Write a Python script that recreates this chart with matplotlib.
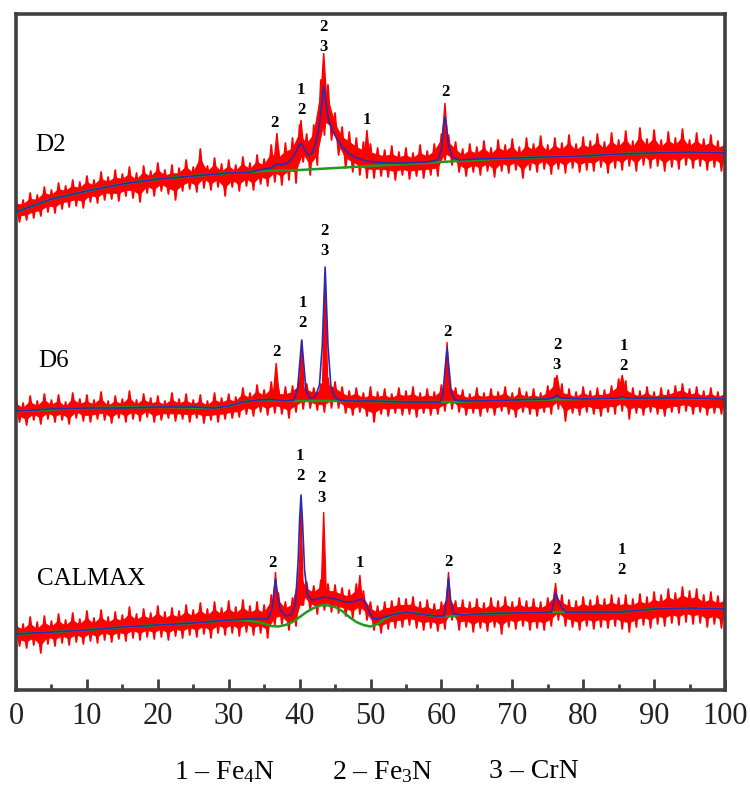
import numpy as np
import matplotlib
matplotlib.use("Agg")
import matplotlib.pyplot as plt
from matplotlib.ticker import MultipleLocator

plt.rcParams['font.family'] = ['Liberation Serif', 'DejaVu Serif']
plt.rcParams['mathtext.fontset'] = 'custom'
plt.rcParams['mathtext.rm'] = 'Liberation Serif'
plt.rcParams['mathtext.it'] = 'Liberation Serif:italic'
plt.rcParams['mathtext.bf'] = 'Liberation Serif:bold'

# ---------------- data (2-theta in degrees, intensity in arbitrary offset units) ----------------
theta = np.arange(0, 101)  # 1-degree sampling of the red measured trace

# D2 measured trace: upper / lower extent of the noisy signal at each degree
d2_hi = [492, 490, 497, 495, 503, 500, 507, 504, 510, 508,
         514, 510, 518, 513, 520, 516, 523, 517, 524, 519,
         527, 520, 525, 522, 530, 523, 541, 524, 532, 526,
         530, 525, 533, 527, 535, 531, 545, 540, 547, 552,
         565, 556, 565, 610, 605, 577, 563, 558, 552, 548,
         546, 542, 540, 544, 538, 542, 537, 545, 539, 546,
         556, 555, 548, 541, 546, 543, 549, 542, 550, 545,
         551, 543, 552, 546, 554, 545, 552, 547, 555, 546,
         553, 549, 556, 548, 557, 550, 559, 549, 562, 551,
         560, 550, 558, 552, 561, 550, 557, 551, 555, 549, 552]
d2_lo = [468, 470, 472, 474, 478, 477, 481, 483, 484, 482,
         488, 487, 490, 491, 489, 494, 492, 488, 497, 494,
         499, 496, 490, 499, 501, 498, 502, 500, 503, 494,
         503, 499, 504, 500, 506, 504, 508, 505, 510, 507,
         528, 515, 525, 555, 550, 535, 522, 518, 515, 512,
         512, 514, 513, 510, 515, 511, 514, 512, 515, 514,
         530, 525, 518, 514, 518, 515, 519, 513, 519, 517,
         520, 512, 520, 518, 521, 516, 521, 517, 522, 518,
         520, 519, 523, 517, 522, 520, 524, 519, 525, 522,
         524, 519, 523, 521, 525, 522, 524, 520, 523, 519, 522]
# D2 fitted profile (blue) and background (green)
d2_fit_x = [0, 5, 10, 15, 20, 25, 30, 33, 35, 36, 36.8, 37.5, 38.5, 39.3, 39.8, 40.2, 40.6,
            41.2, 41.7, 42.2, 42.7, 43.1, 43.4, 43.7, 44.1, 44.6, 45.2, 46, 47, 48, 49.5, 50.5,
            52, 55, 58, 59.5, 60.0, 60.3, 60.5, 60.7, 61.0, 61.5, 62.5, 65, 70, 75, 80, 85, 90, 95, 100]
d2_fit_y = [478, 491, 499, 506, 511, 514, 517, 518, 521, 522, 526, 525, 528, 535, 543, 547, 542,
            535, 536, 545, 560, 585, 603, 588, 570, 560, 552, 543, 536, 532, 529, 528,
            527, 527, 528, 530, 540, 565, 573, 565, 545, 533, 530, 531, 532, 533, 534, 536, 537, 538, 537]
d2_bg_x = [0, 5, 10, 15, 20, 25, 30, 35, 40, 45, 50, 55, 60, 65, 70, 75, 80, 85, 90, 95, 100]
d2_bg_y = [478, 491, 499, 506, 511, 514, 517, 519, 520, 522, 524, 526, 528, 530, 532, 533, 534, 536, 537, 538, 537]
# D2 sharp peak tips of the measured trace
d2_peak_x = [36.8, 40.2, 43.4, 49.5, 60.5]
d2_peak_top = [557, 570, 637, 560, 587]
d2_peak_foot = [528, 540, 592, 530, 548]

# D6
d6_hi = [292, 287, 294, 289, 296, 290, 295, 288, 297, 291,
         295, 290, 298, 289, 294, 291, 299, 290, 296, 292,
         294, 289, 297, 291, 296, 290, 295, 289, 297, 292,
         296, 293, 302, 297, 305, 300, 308, 302, 303, 304,
         312, 306, 302, 306, 312, 308, 303, 299, 302, 297,
         303, 298, 301, 296, 302, 299, 303, 297, 301, 298,
         305, 312, 302, 300, 296, 302, 297, 301, 298, 303,
         297, 302, 298, 301, 297, 304, 312, 306, 301, 298,
         303, 299, 302, 300, 304, 311, 309, 302, 299, 303,
         298, 302, 300, 304, 306, 301, 303, 299, 302, 298, 301]
d6_lo = [268, 265, 270, 266, 271, 268, 270, 266, 272, 269,
         268, 271, 270, 267, 272, 268, 271, 269, 273, 268,
         270, 272, 269, 271, 268, 272, 267, 270, 268, 271,
         272, 273, 276, 274, 278, 275, 277, 276, 272, 278,
         281, 282, 280, 278, 282, 282, 277, 275, 278, 274,
         268, 276, 274, 277, 275, 276, 273, 277, 275, 276,
         279, 281, 278, 275, 277, 274, 278, 275, 279, 276,
         273, 278, 276, 274, 278, 276, 281, 269, 277, 275,
         278, 276, 274, 278, 276, 279, 271, 277, 275, 278,
         276, 274, 278, 277, 279, 276, 278, 275, 277, 276, 278]
d6_fit_x = [0, 5, 10, 15, 20, 25, 28, 30, 32, 34, 36, 37, 38, 39.2, 39.7, 40.0, 40.3, 40.6, 40.9,
            41.4, 42.2, 42.8, 43.2, 43.6, 44.0, 44.4, 44.9, 45.5, 47, 50, 55, 59.8, 60.2, 60.5,
            60.8, 61.1, 61.4, 61.9, 63, 65, 70, 75, 75.8, 76.3, 76.8, 80, 85, 85.5, 86, 90, 95, 100]
d6_fit_y = [279, 281, 282, 282, 283, 283, 282, 284, 288, 290, 290.5, 290, 289, 290, 300, 325, 350, 325, 300,
            292, 293, 305, 345, 423, 345, 305, 294, 290, 289, 289, 288, 288, 295, 320,
            342, 320, 297, 290, 289, 289, 290, 291, 292, 295, 292, 291, 292, 293, 292, 292, 292, 291]
d6_bg_x = [0, 10, 20, 28, 30, 32, 34, 36, 38, 40, 45, 50, 55, 60, 62, 65, 70, 80, 90, 100]
d6_bg_y = [279, 282, 283, 282, 284, 288, 290, 290, 289, 289, 289, 289, 288, 288, 288, 289, 290, 291, 292, 291]
d6_peak_x = [36.7, 40.3, 43.6, 60.8, 76.3, 85.5]
d6_peak_top = [327, 350, 418, 348, 315, 315]
d6_peak_foot = [295, 290, 292, 292, 298, 300]

# CALMAX
cm_hi = [70, 66, 73, 68, 74, 69, 76, 70, 77, 71,
         79, 72, 80, 73, 78, 75, 83, 76, 81, 77,
         84, 78, 82, 79, 85, 80, 87, 81, 88, 82,
         89, 83, 90, 84, 88, 85, 95, 97, 88, 92,
         125, 108, 104, 110, 106, 105, 102, 100, 106, 99,
         88, 84, 88, 89, 92, 91, 93, 88, 90, 86,
         88, 100, 89, 90, 88, 91, 87, 92, 89, 93,
         88, 92, 89, 91, 88, 92, 100, 95, 90, 89,
         93, 90, 94, 91, 95, 92, 95, 91, 96, 93,
         98, 95, 101, 97, 103, 99, 101, 95, 98, 94, 97]
cm_lo = [44, 42, 45, 37, 46, 44, 47, 45, 48, 46,
         49, 47, 50, 48, 51, 49, 52, 50, 53, 51,
         53, 50, 54, 52, 55, 53, 56, 52, 57, 55,
         57, 54, 58, 55, 57, 52, 65, 66, 60, 64,
         85, 80, 76, 80, 78, 77, 74, 72, 76, 70,
         60, 57, 61, 62, 63, 65, 62, 60, 62, 59,
         61, 70, 60, 63, 58, 62, 59, 63, 56, 63,
         61, 64, 60, 62, 60, 64, 70, 64, 63, 60,
         64, 61, 63, 62, 64, 61, 58, 63, 65, 62,
         66, 64, 67, 65, 68, 66, 67, 63, 66, 62, 65]
cm_fit_x = [0, 5, 10, 15, 20, 25, 30, 33, 35.5, 36.1, 36.4, 36.6, 36.9, 37.3, 38, 38.8, 39.4, 39.8,
            40.0, 40.2, 40.4, 40.7, 41.1, 41.8, 42.5, 43.4, 44.5, 45.5, 46.5, 47.5, 48.3, 48.7,
            49.2, 49.7, 50.3, 51, 52, 53.5, 55, 57, 59, 60.4, 60.7, 61.0, 61.3, 61.7, 63, 65, 70,
            75.5, 75.8, 76.1, 76.5, 77, 77.6, 80, 85, 90, 95, 100]
cm_fit_y = [56, 58, 60, 63, 65, 67, 70, 71, 71, 80, 100, 111, 95, 80, 74, 75, 85, 130,
            170, 195, 170, 120, 95, 90, 91, 93, 92, 90, 88, 88, 90, 91,
            88, 80, 72, 71, 73, 76, 78, 76, 74, 74, 90, 112, 90, 76, 75, 76, 77,
            78, 86, 97, 90, 82, 78, 78, 78, 81, 82, 81]
cm_bg_x = [0, 5, 10, 15, 20, 25, 30, 32, 34, 35, 36, 37, 38, 39, 40, 41, 42, 43, 43.5, 44, 45,
           46, 47, 48, 49, 50, 51, 52, 53, 54, 55, 56, 57, 58, 59, 60, 61, 62, 63, 65, 70, 75,
           80, 85, 90, 95, 100]
cm_bg_y = [56, 58, 60, 63, 65, 67, 70, 70, 68, 66.5, 64, 63.5, 65, 68, 73, 78, 82, 84.5, 85, 84.5, 83,
           79, 73, 68, 65, 63.5, 66, 71, 75, 77, 78, 77.5, 76, 75, 74, 73.5, 73.5, 74.5, 75.5, 76, 77, 78,
           78, 78, 81, 82, 81]
cm_peak_x = [36.6, 40.2, 43.4, 48.5, 61.0, 76.1]
cm_peak_top = [118, 182, 178, 115, 118, 107]
cm_peak_foot = [80, 85, 98, 88, 80, 82]

# sample names and phase labels
sample_names = ["D2", "D6", "CALMAX"]
sample_label_x = [2.7, 3.1, 3.0]
sample_label_y = [545, 329, 111]

phase_lbl_text = ["2", "1\n2", "2\n3", "1", "2",
                  "2", "1\n2", "2\n3", "2", "2\n3", "1\n2",
                  "2", "1\n2", "2\n3", "1", "2", "2\n3", "1\n2"]
phase_lbl_x = [36.4, 40.2, 43.4, 49.5, 60.5,
               36.7, 40.4, 43.5, 60.8, 76.3, 85.7,
               36.1, 40.1, 43.1, 48.5, 61.0, 76.2, 85.4]
phase_lbl_y = [567, 590, 653, 570, 598,
               338, 377, 449, 358, 335, 334,
               127, 224, 202, 127, 128, 130, 130]
phase_lbl_gap = [0, 1, 1, 0, 0,
                 0, 1, 1, 0, 1, 1,
                 0, 1, 1, 0, 0, 1, 1]

x_major = 10
x_minor = 5
legend_items = ["1 – Fe$_4$N", "2 – Fe$_3$N", "3 – CrN"]

# ---------------- figure ----------------
W, H = 750, 787
fig = plt.figure(figsize=(W / 100, H / 100), dpi=100)
ax = fig.add_axes([16 / W, 1 - 690 / H, 709 / W, 676 / H])
ax.set_xlim(0, 100)
ax.set_ylim(0, 676)

RED = '#ff0000'
BLUE = '#2b2ab0'
GREEN = '#1f9a1f'
CORE = 0.25  # fraction of the noise excursion drawn as thin spikes rather than solid band


def draw_trace(hi, lo, fx, fy, bx, by, px, ptop, pfoot, hw):
    hi = np.asarray(hi, float)
    lo = np.asarray(lo, float)
    span = hi - lo
    # solid core of the noisy band
    poly_x = np.concatenate([theta, (theta + 0.5)[::-1]])
    poly_y = np.concatenate([hi - CORE * span, (lo + CORE * span)[::-1]])
    ax.fill(poly_x, poly_y, color=RED, lw=0.6, zorder=1)
    # noise excursions: the trace swings to its upper then lower extreme
    xs = np.empty(2 * len(theta))
    ys = np.empty(2 * len(theta))
    xs[0::2] = theta
    xs[1::2] = theta + 0.5
    ys[0::2] = hi
    ys[1::2] = lo
    ax.plot(xs, ys, color=RED, lw=1.3, zorder=1)
    for x, t, f in zip(px, ptop, pfoot):
        ax.fill([x - hw, x, x + hw], [f, t, f], color=RED, lw=1.0, zorder=1)
    ax.plot(bx, by, color=GREEN, lw=1.8, zorder=2)
    ax.plot(fx, fy, color=BLUE, lw=1.2, zorder=3)


draw_trace(d2_hi, d2_lo, d2_fit_x, d2_fit_y, d2_bg_x, d2_bg_y, d2_peak_x, d2_peak_top, d2_peak_foot, 0.4)
draw_trace(d6_hi, d6_lo, d6_fit_x, d6_fit_y, d6_bg_x, d6_bg_y, d6_peak_x, d6_peak_top, d6_peak_foot, 0.4)
draw_trace(cm_hi, cm_lo, cm_fit_x, cm_fit_y, cm_bg_x, cm_bg_y, cm_peak_x, cm_peak_top, cm_peak_foot, 0.35)

for name, x, y in zip(sample_names, sample_label_x, sample_label_y):
    ax.text(x, y, name, fontsize=18, ha='left', va='center', zorder=5)

for t, x, y, g in zip(phase_lbl_text, phase_lbl_x, phase_lbl_y, phase_lbl_gap):
    ax.text(x, y, t, fontsize=12, fontweight='bold', ha='center', va='center',
            linespacing=1.0 + 0.35 * g, zorder=5)

# frame and ticks
for s in ax.spines.values():
    s.set_linewidth(2.6)
    s.set_color('#404040')
ax.xaxis.set_major_locator(MultipleLocator(x_major))
ax.xaxis.set_minor_locator(MultipleLocator(x_minor))
ax.tick_params(axis='x', which='major', direction='in', length=8, width=2, color='#404040',
               labelsize=22, pad=9, top=False)
ax.tick_params(axis='x', which='minor', direction='in', length=4, width=2, color='#404040', top=False)
ax.set_yticks([])
ax.tick_params(axis='y', left=False, right=False, labelleft=False)
for lab in ax.get_xticklabels():
    lab.set_color('#222222')

legend_px = [225, 383, 534]
for txt, px in zip(legend_items, legend_px):
    fig.text(px / W, 1 - 772 / H, txt, fontsize=20, ha='center', va='center')

fig.savefig('out.png', dpi=100)
